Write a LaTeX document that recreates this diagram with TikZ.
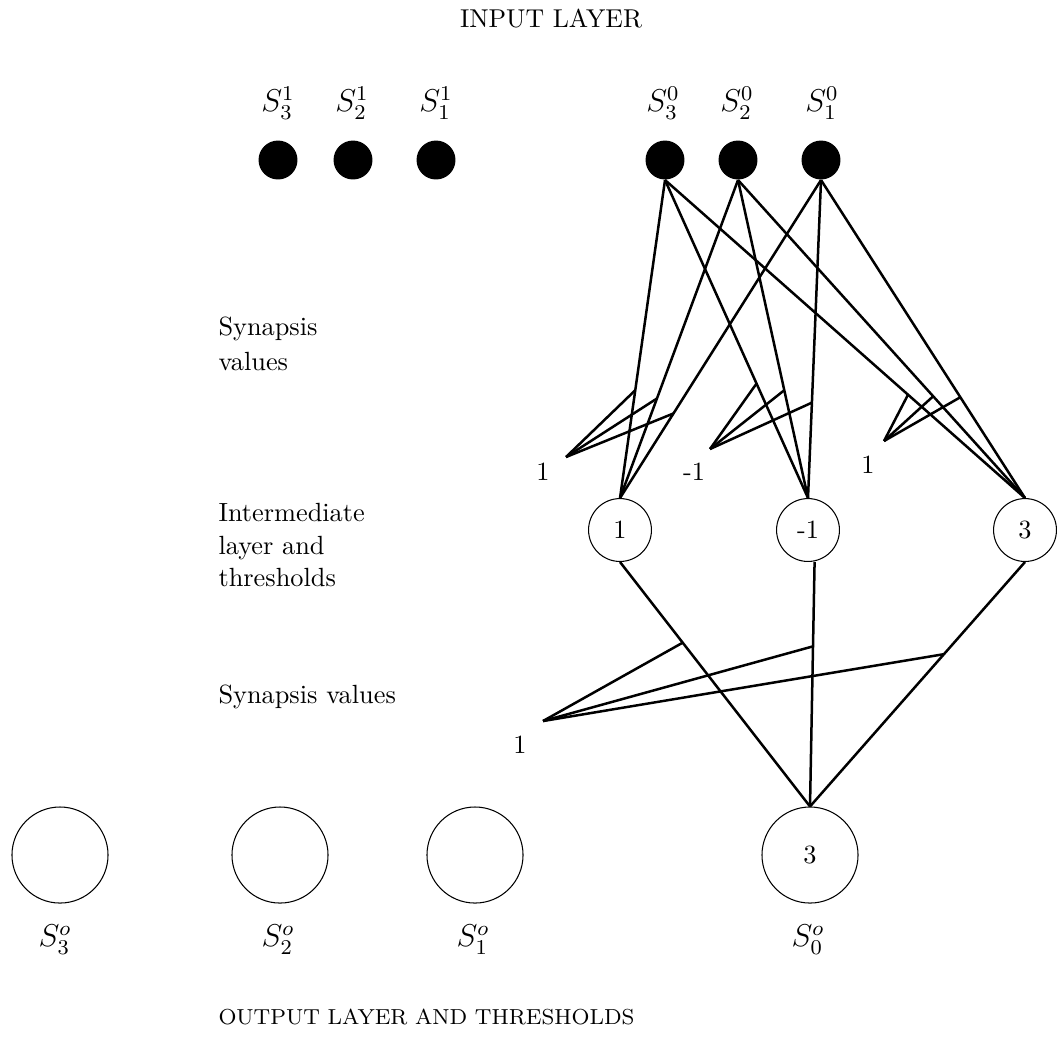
\documentclass[tikz,border=0pt]{standalone}
\usetikzlibrary{calc}
\newcommand\lblfont{\fontsize{10}{13.3}\selectfont}
\newcommand\mathlblfont{\fontsize{11.5}{13}\selectfont}
\begin{document}
\begin{tikzpicture}[x=0.38pt,y=-0.38pt,
  inp/.style={circle,fill=black,inner sep=0pt,minimum size=14.8pt},
  mid/.style={circle,draw,line width=0.4pt,inner sep=0pt,minimum size=23.9pt,font=\lblfont},
  outp/.style={circle,draw,line width=0.4pt,inner sep=0pt,minimum size=36.5pt,font=\lblfont},
  syn/.style={line width=0.95pt},
  ptr/.style={line width=0.95pt},
  txt/.style={inner sep=0pt,font=\lblfont},
  mtxt/.style={inner sep=0pt,font=\mathlblfont},
]
\useasboundingbox (0,0) rectangle (1057,1042);

% titles
\node[inner sep=0pt,font=\fontsize{9.8}{12}\selectfont] (tin) at (551,19) {INPUT LAYER};
\node[inner sep=0pt,anchor=west,font=\fontsize{8.25}{10}\selectfont] (tout) at (218,1017) {OUTPUT LAYER AND THRESHOLDS};

% left labels
\node[txt,anchor=west,align=left,font=\fontsize{10}{13.3}\selectfont] (lsyn1) at (218,344) {Synapsis\\values};
\node[txt,anchor=west,align=left,font=\fontsize{10}{12.5}\selectfont] (lint) at (218,545) {Intermediate\\layer and\\thresholds};
\node[txt,anchor=west] (lsyn2) at (218,697) {Synapsis values};

% input layer
\node[inp] (i31) at (278,160) {};
\node[inp] (i21) at (353,160) {};
\node[inp] (i11) at (436,160) {};
\node[inp] (i30) at (665,160) {};
\node[inp] (i20) at (738,160) {};
\node[inp] (i10) at (821,160) {};
\node[mtxt] (li31) at (278,103) {$S^1_3$};
\node[mtxt] (li21) at (352,103) {$S^1_2$};
\node[mtxt] (li11) at (436,103) {$S^1_1$};
\node[mtxt] (li30) at (663,103) {$S^0_3$};
\node[mtxt] (li20) at (737,103) {$S^0_2$};
\node[mtxt] (li10) at (822,103) {$S^0_1$};

% intermediate layer
\node[mid] (n1) at (620,530) {1};
\node[mid] (n2) at (808,530) {-1};
\node[mid] (n3) at (1025,530) {3};

% output layer
\node[outp] (o3) at (60,855) {};
\node[outp] (o2) at (280,855) {};
\node[outp] (o1) at (475,855) {};
\node[outp] (o0) at (810,855) {3};
\node[mtxt] (lo3) at (55,940) {$S^o_3$};
\node[mtxt] (lo2) at (278,940) {$S^o_2$};
\node[mtxt] (lo1) at (473,940) {$S^o_1$};
\node[mtxt] (lo0) at (808,940) {$S^o_0$};

% synapses input -> intermediate
\foreach \s in {i30,i20,i10}{
  \foreach \t in {n1,n2,n3}{
    \draw[syn] (\s.south) -- (\t.north);
  }
}
% synapses intermediate -> output
\draw[syn] (n1.south) -- (o0.north);
\draw[syn] ([xshift=2.5pt]n2.south) -- (o0.north);
\draw[syn] (n3.south) -- (o0.north);

% synapsis value pointers, group 1
\coordinate (p1) at (566,457);
\node[txt] (v1) at (543,472) {1};
\draw[ptr] (p1) -- ($(i30.south)!0.661!(n1.north)$);
\draw[ptr] (p1) -- ($(i20.south)!0.687!(n1.north)$);
\draw[ptr] (p1) -- ($(i10.south)!0.734!(n1.north)$);
% group 2
\coordinate (p2) at (710,449);
\node[txt] (v2) at (694,472) {-1};
\draw[ptr] (p2) -- ($(i30.south)!0.64!(n2.north)$);
\draw[ptr] (p2) -- ($(i20.south)!0.661!(n2.north)$);
\draw[ptr] (p2) -- ($(i10.south)!0.70!(n2.north)$);
% group 3
\coordinate (p3) at (884,441);
\node[txt] (v3) at (868,465) {1};
\draw[ptr] (p3) -- ($(i30.south)!0.675!(n3.north)$);
\draw[ptr] (p3) -- ($(i20.south)!0.68!(n3.north)$);
\draw[ptr] (p3) -- ($(i10.south)!0.683!(n3.north)$);
% group 4
\coordinate (p4) at (543,721);
\node[txt] (v4) at (520,745) {1};
\draw[ptr] (p4) -- ($(n1.south)!0.33!(o0.north)$);
\draw[ptr] (p4) -- ($([xshift=2.5pt]n2.south)!0.345!(o0.north)$);
\draw[ptr] (p4) -- ($(n3.south)!0.377!(o0.north)$);
\end{tikzpicture}
\end{document}
